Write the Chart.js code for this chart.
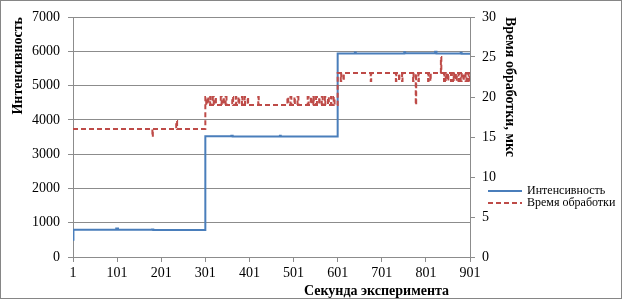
<!DOCTYPE html>
<html>
<head>
<meta charset="utf-8">
<script src="https://cdn.jsdelivr.net/npm/chart.js@4.4.1/dist/chart.umd.min.js"></script>
<style>
  body { margin: 0; background: #fff; }
</style>
</head>
<body>
<canvas id="chartIntensity" width="625" height="301"></canvas>
<script>
// intensity: second at which the level starts, and the level itself
var intensitySec = [1, 2, 99, 103, 180, 183, 301, 360, 363, 470, 472, 601, 640, 642, 752, 754, 822, 825, 880, 882, 901];
var intensityVal = [500, 795, 830, 795, 805, 790, 3520, 3540, 3515, 3535, 3515, 5935, 5965, 5935, 5975, 5940, 5990, 5935, 5960, 5930, 5930];

// processing time, mks (steps)
var timeSec = [1, 181, 182, 235, 237,
    301, 303, 306, 308, 312, 313, 318, 320, 324, 325,
    336, 338, 342, 343, 347, 349,
    362, 364, 370, 371, 376, 378, 384, 385, 390, 391, 397, 398,
    421, 422,
    487, 489, 494, 496, 503, 504, 510, 512,
    533, 535, 540, 542, 546, 547, 552, 554, 559, 560, 565, 567, 572, 573, 579, 581, 586, 587, 592, 594,
    601, 608, 609, 614, 615, 676, 677,
    733, 734, 740, 741, 747, 748,
    772, 773, 778, 779, 784, 785,
    806, 807, 811, 812, 835, 836,
    842, 843, 846, 848, 851, 852, 858, 860, 864, 865, 869, 871, 875, 876, 880, 882, 886, 887, 891, 893, 897, 898, 901];
var timeVal = [16, 15, 16, 17, 16,
    20, 19, 20, 19, 20, 19, 20, 19, 20, 19,
    20, 19, 20, 19, 20, 19,
    20, 19, 20, 19, 20, 19, 20, 19, 20, 19, 20, 19,
    20, 19,
    20, 19, 20, 19, 20, 19, 20, 19,
    20, 19, 20, 19, 20, 19, 20, 19, 20, 19, 20, 19, 20, 19, 20, 19, 20, 19, 20, 19,
    23, 22, 23, 22, 23, 22, 23,
    22, 23, 22, 23, 22, 23,
    22, 23, 19, 23, 22, 23,
    22, 23, 22, 23, 25, 23,
    22, 23, 22, 23, 22, 23, 22, 23, 22, 23, 22, 23, 22, 23, 22, 23, 22, 23, 22, 23, 22, 23, 22, 23, 23];

var serif = '"Liberation Serif", "DejaVu Serif", serif';
var gridColor = '#8c8c8c';

function toPoints(xs, ys) {
    return xs.map(function (x, i) { return { x: x, y: ys[i] }; });
}

function plainNumber(value) {
    return String(value);
}

// white background, outer frame and the legend on the right
var frameAndLegend = {
    id: 'frameAndLegend',
    beforeDraw: function (chart) {
        var ctx = chart.ctx;
        ctx.save();
        ctx.fillStyle = '#fff';
        ctx.fillRect(0, 0, chart.width, chart.height);
        ctx.restore();
    },
    afterDraw: function (chart) {
        var ctx = chart.ctx;
        ctx.save();
        ctx.strokeStyle = '#868686';
        ctx.lineWidth = 1;
        ctx.strokeRect(0.5, 0.5, 621, 298);

        var lx = 488, ly = 191;
        chart.data.datasets.forEach(function (ds, i) {
            var y = ly + i * 12;
            ctx.strokeStyle = ds.borderColor;
            ctx.lineWidth = 2;
            ctx.setLineDash(ds.borderDash || []);
            ctx.beginPath();
            ctx.moveTo(lx, y);
            ctx.lineTo(lx + 34, y);
            ctx.stroke();
            ctx.setLineDash([]);
            ctx.fillStyle = '#000';
            ctx.font = '12px ' + serif;
            ctx.textBaseline = 'middle';
            ctx.fillText(ds.label, lx + 39, y);
        });
        ctx.restore();
    }
};

var cti = document.getElementById("chartIntensity");

var chart = new Chart(cti, {
    type: 'line',
    data: {
        datasets: [{
            label: 'Интенсивность',
            data: toPoints(intensitySec, intensityVal),
            yAxisID: 'y',
            borderColor: '#4a7ebb',
            borderWidth: 2,
            pointRadius: 0,
            stepped: true,
            order: 1
        }, {
            label: 'Время обработки',
            data: toPoints(timeSec, timeVal),
            yAxisID: 'y1',
            borderColor: '#be4b48',
            borderWidth: 2,
            borderDash: [5, 3],
            pointRadius: 0,
            stepped: true,
            order: 0
        }]
    },
    options: {
        responsive: false,
        devicePixelRatio: 1,
        animation: false,
        layout: { padding: { top: 17, right: 105, bottom: 0, left: 0 } },
        plugins: {
            legend: { display: false },
            tooltip: { enabled: false }
        },
        scales: {
            x: {
                type: 'linear',
                min: 1,
                max: 901,
                ticks: { stepSize: 100, color: '#000', font: { family: serif, size: 14 }, padding: 3, maxRotation: 0, callback: plainNumber },
                grid: { drawOnChartArea: false, tickLength: 5, color: gridColor },
                border: { color: gridColor },
                title: {
                    display: true,
                    text: 'Секунда эксперимента\u00a0\u00a0\u00a0\u00a0\u00a0\u00a0',
                    align: 'end',
                    color: '#000',
                    font: { family: serif, size: 14, weight: 'bold' },
                    padding: { top: 0, bottom: 1 }
                },
                afterFit: function (s) { s.height = 44; }
            },
            y: {
                position: 'left',
                min: 0,
                max: 7000,
                ticks: { stepSize: 1000, color: '#000', font: { family: serif, size: 14 }, padding: 8, callback: plainNumber },
                grid: { color: gridColor, tickLength: 5 },
                border: { color: gridColor },
                title: {
                    display: true,
                    text: 'Интенсивность',
                    align: 'end',
                    color: '#000',
                    font: { family: serif, size: 14, weight: 'bold' },
                    padding: { top: 10, bottom: 0 }
                },
                afterFit: function (s) { s.width = 73; }
            },
            y1: {
                position: 'right',
                min: 0,
                max: 30,
                ticks: { stepSize: 5, color: '#000', font: { family: serif, size: 14 }, padding: 7, callback: plainNumber },
                grid: { drawOnChartArea: false, color: gridColor, tickLength: 5 },
                border: { color: gridColor },
                title: {
                    display: true,
                    text: 'Время обработки, мкс',
                    align: 'end',
                    color: '#000',
                    font: { family: serif, size: 14, weight: 'bold' },
                    padding: { top: 2, bottom: 0 }
                },
                afterFit: function (s) { s.width = 50; }
            }
        }
    },
    plugins: [frameAndLegend]
});
</script>
</body>
</html>
